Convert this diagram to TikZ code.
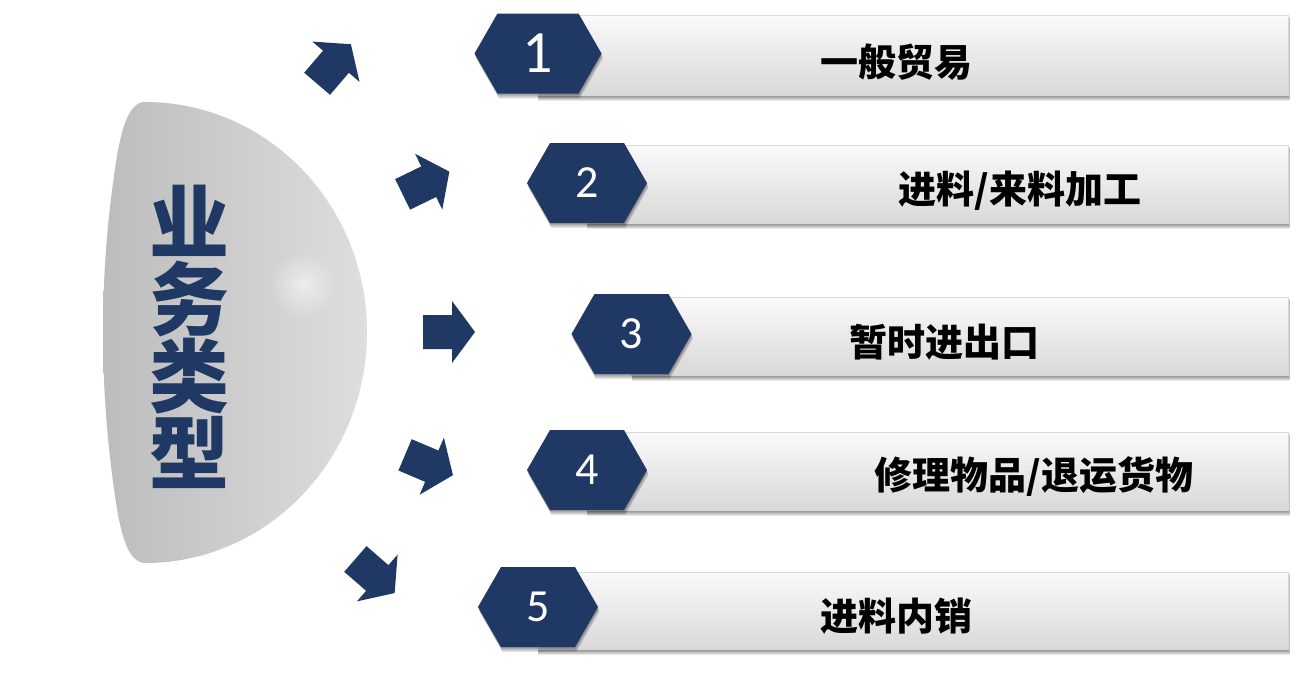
\documentclass[tikz,border=0pt]{standalone}
\usepackage{fontspec}
\newfontfamily\cjk{Noto Sans CJK SC}
\newfontfamily\numfont{Carlito}
\usetikzlibrary{fadings}
\definecolor{navy}{HTML}{1F3864}
\definecolor{domeL}{gray}{0.74}
\definecolor{domeM}{gray}{0.84}
\definecolor{domeR}{gray}{0.87}
\tikzfading[name=glowfade, inner color=transparent!0, outer color=transparent!100]
\begin{document}
\begin{tikzpicture}[x=1pt,y=-1pt,
  arrowshape/.style={fill=navy},
  hexshape/.style={fill=navy},
  shadowlayer/.style={fill=black, fill opacity=0.09},
  barfill/.style={top color=gray!4, middle color=gray!10, bottom color=gray!30, draw=gray!30, line width=0.7pt},
  numtext/.style={text=white, inner sep=0pt},
  labeltext/.style={text=black, inner sep=0pt, font=\cjk\bfseries\fontsize{38}{38}\selectfont},
  titletext/.style={text=navy, inner sep=0pt, align=center, font=\cjk\bfseries\fontsize{80}{77}\selectfont}
]
\useasboundingbox (0,0) rectangle (1298,675);
\fill[white] (0,0) rectangle (1298,675);

% dome
\shade[left color=domeL, middle color=domeM, right color=domeR]
  (145,102) .. controls (268,102) and (367,205) .. (367,332)
  .. controls (367,459) and (268,563) .. (145,563)
  .. controls (130,563) and (123,540) .. (118,515)
  .. controls (109,460) and (103,400) .. (103,332)
  .. controls (103,264) and (109,204) .. (118,150)
  .. controls (123,125) and (130,102) .. (145,102) -- cycle;
\fill[white, path fading=glowfade, fill opacity=0.55] (303,285) circle (34);
\node[titletext] (title) at (189.5,337) {业\\务\\类\\型};

% arrows
\foreach \ax/\ay/\ang in {334/64/49.5, 426/183/26, 449/332/0, 429/465/-23, 375/576/-41}{
  \fill[arrowshape, shift={(\ax,\ay)}, rotate=\ang]
    (-26,-17) -- (3,-17) -- (3,-31) -- (26,0) -- (3,31) -- (3,17) -- (-26,17) -- cycle;
}

% bars with hexagons
\foreach \i/\cx/\cy/\hw/\top/\bot/\fs in {
  1/538/53.5/63.5/15/95/60,
  2/587/183/60/145/223/46,
  3/631.5/334/60/297/375/46,
  4/587/470/60/432/510/46,
  5/538/607/60/572/649/46}{
  \foreach \k in {1,...,6}
    \fill[shadowlayer] (\cx,\top+\k*0.5) rectangle (1288+\k*0.4,\bot+\k);
  \shade[barfill] (\cx,\top) rectangle (1288,\bot);
  \foreach \k in {1,...,5}
    \fill[shadowlayer, shift={(\cx+\k*0.3,\cy+\k)}]
      (-\hw,0) -- (-\hw+23,-40) -- (\hw-23,-40) -- (\hw,0) -- (\hw-23,40) -- (-\hw+23,40) -- cycle;
  \fill[hexshape, shift={(\cx,\cy)}]
    (-\hw,0) -- (-\hw+23,-40) -- (\hw-23,-40) -- (\hw,0) -- (\hw-23,40) -- (-\hw+23,40) -- cycle;
  \node[numtext, font=\numfont\fontsize{\fs}{\fs}\selectfont] (n\i) at (\cx,\cy) {\i};
}

% labels
\node[labeltext] (t1) at (896,62) {一般贸易};
\node[labeltext] (t2) at (1020,190.5) {进料/来料加工};
\node[labeltext] (t3) at (944,342) {暂时进出口};
\node[labeltext] (t4) at (1034,477) {修理物品/退运货物};
\node[labeltext] (t5) at (896,616) {进料内销};
\end{tikzpicture}
\end{document}
